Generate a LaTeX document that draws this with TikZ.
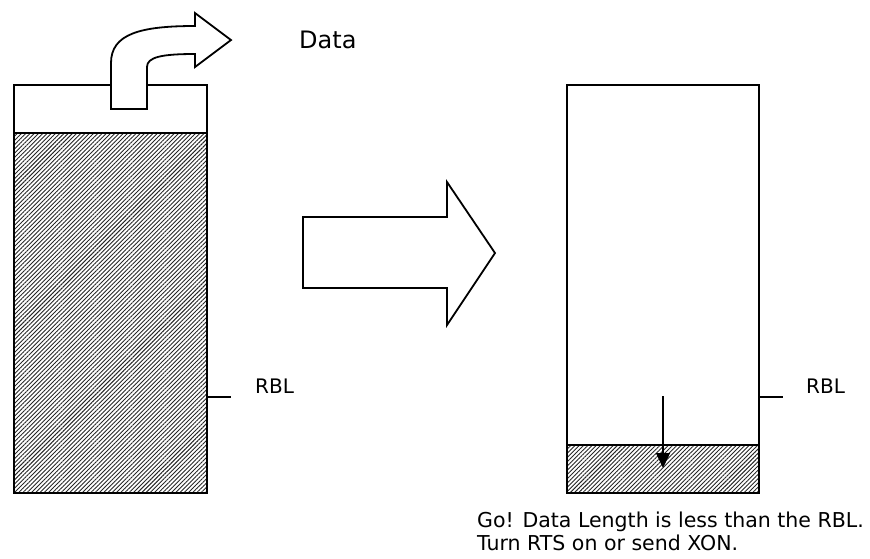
\documentclass[tikz,border=0pt]{standalone}
\usepackage{fontspec}
\setmainfont{DejaVu Sans}
\usetikzlibrary{arrows.meta,patterns.meta,positioning}

\begin{document}
\begin{tikzpicture}[x=1pt,y=-1pt,
        outline/.style={draw=black,line width=1.8pt,line join=miter},
        hatched/.style={pattern={Lines[angle=45,distance=3pt,line width=0.9pt]},pattern color=black!85},
        tick/.style={line width=1.4pt},
        lbl/.style={inner sep=0pt,anchor=west,font=\fontsize{20}{23}\selectfont}]
        \useasboundingbox (0,0) rectangle (870,558);

        % Left buffer (almost full)
        \coordinate (lTop) at (14,85);
        \coordinate (lLevel) at (14,133);
        \coordinate (lBot) at (207,493);
        \fill[hatched] (lLevel) rectangle (lBot);
        \draw[outline] (lLevel) -- (207,133);
        \draw[outline] (lTop) rectangle (lBot);

        % Left RBL mark
        \coordinate (lRbl) at (207,397);
        \coordinate (lRblEnd) at (231,397);
        \draw[tick] (lRbl) -- (lRblEnd);
        \node[lbl] (lRblText) at (255,386) {RBL};

        % Data going out
        \draw[outline,fill=white] (111,109) -- (111,63)
            .. controls (111,34) and (140,26) .. (195,26)
            -- (195,13) -- (231,40) -- (195,67) -- (195,54)
            .. controls (162,54) and (147,57) .. (147,67)
            -- (147,109) -- cycle;
        \node[lbl,font=\fontsize{24}{28}\selectfont] (dataText) at (299,40) {Data};

        % ================== Middle arrow ==================
        \draw[outline,fill=white] (303,217) -- (447,217) -- (447,182) -- (495,253)
            -- (447,325) -- (447,288) -- (303,288) -- cycle;

        % Right buffer (below RBL)
        \coordinate (rTop) at (567,85);
        \coordinate (rLevel) at (567,445);
        \coordinate (rBot) at (759,493);
        \fill[hatched] (rLevel) rectangle (rBot);
        \draw[outline] (rLevel) -- (759,445);
        \draw[outline] (rTop) rectangle (rBot);

        % Right RBL mark
        \coordinate (rRbl) at (759,397);
        \coordinate (rRblEnd) at (783,397);
        \draw[tick] (rRbl) -- (rRblEnd);
        \node[lbl] (rRblText) at (806,386) {RBL};

        % level falling
        \coordinate (fallFrom) at (663,396);
        \coordinate (fallTo) at (663,468);
        \draw[line width=1.4pt,-{Triangle[length=15pt,width=14pt]}] (fallFrom) -- (fallTo);

        % note
        \node[lbl,align=left,font=\fontsize{20.5}{23}\selectfont] (note) at (477,531)
            {Go! Data Length is less than the RBL.\\Turn RTS on or send XON.};
\end{tikzpicture}
\end{document}
